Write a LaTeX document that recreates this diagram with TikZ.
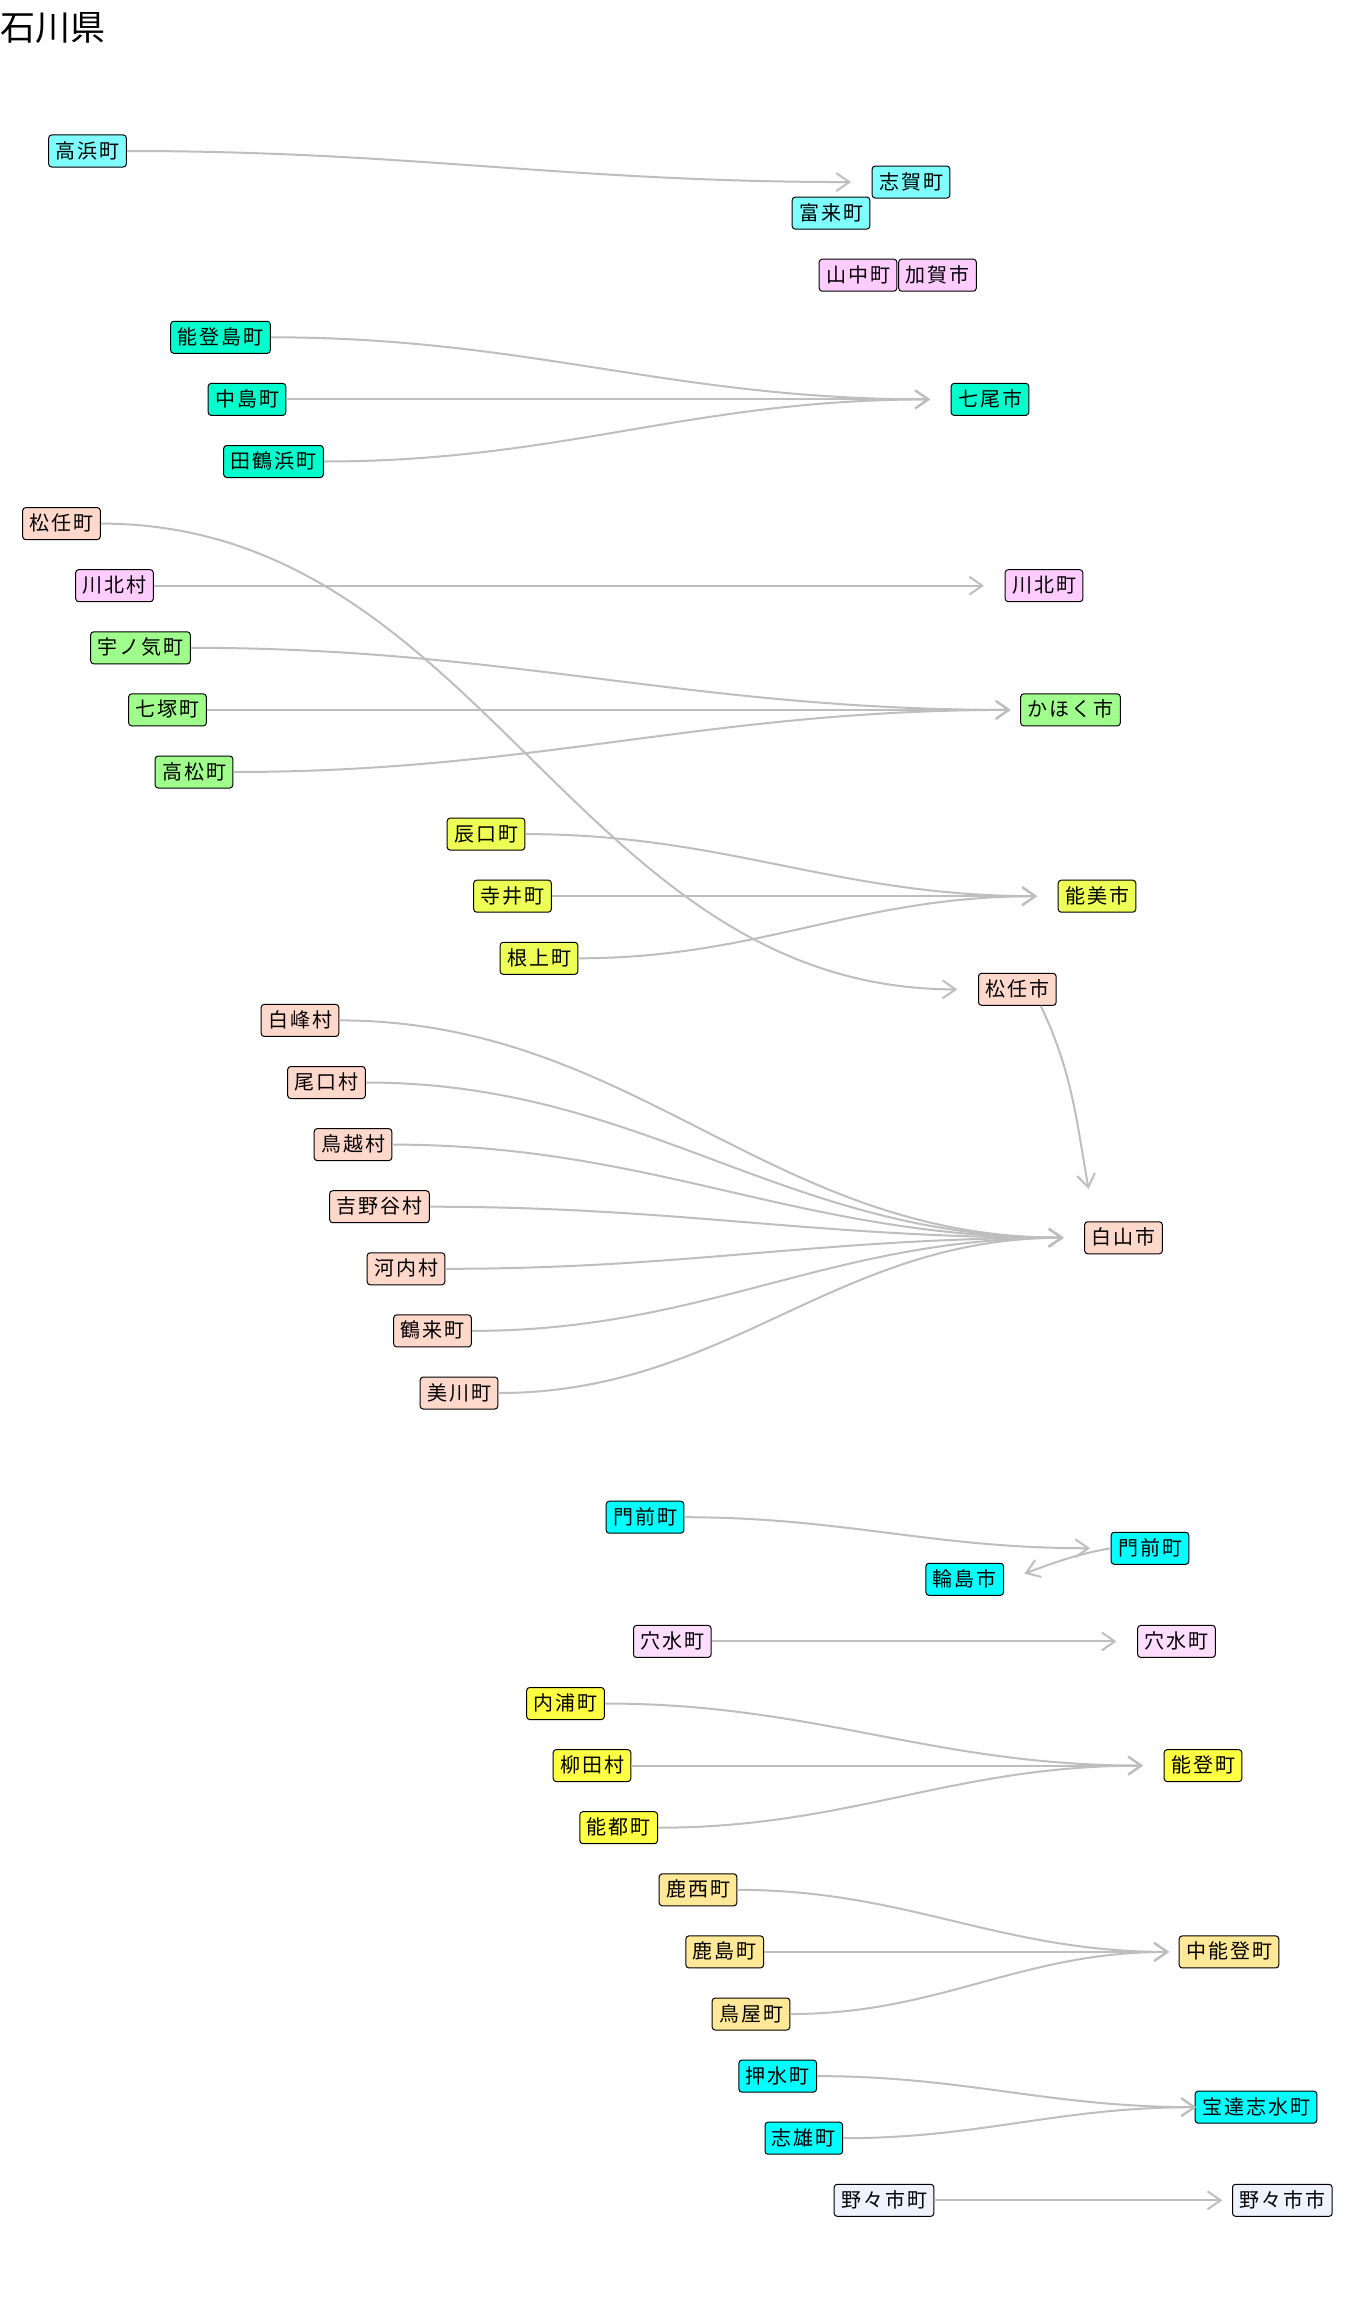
\documentclass[tikz,border=0pt]{standalone}
\usepackage{fontspec}
\setmainfont{Noto Sans CJK JP}
\newfontfamily\townfont[LetterSpace=10]{Noto Sans CJK JP}
\usetikzlibrary{arrows.meta}
\definecolor{lineGray}{RGB}{190,190,190}
\definecolor{cLightCyan}{HTML}{80FFFF}
\definecolor{cPink}{HTML}{FFCCFF}
\definecolor{cAqua}{HTML}{00FFCC}
\definecolor{cSalmon}{HTML}{FFD8CC}
\definecolor{cGreen}{HTML}{A0FF8C}
\definecolor{cLime}{HTML}{EEFF55}
\definecolor{cCyan}{HTML}{00FFFF}
\definecolor{cPaleMagenta}{HTML}{FFDDFF}
\definecolor{cYellow}{HTML}{FFFF44}
\definecolor{cSand}{HTML}{FFE898}
\definecolor{cIce}{HTML}{EEF3FF}
\tikzset{
  town/.style={draw=black, line width=1pt, rounded corners=3pt,
    minimum height=32pt, inner xsep=6.8pt, inner ysep=0pt,
    font=\townfont\fontsize{20pt}{20pt}\selectfont, text height=17pt, text depth=3pt},
  conn/.style={draw=lineGray, line width=2pt, -{Straight Barb[length=13pt,width=18pt]}},
}
\begin{document}
\begin{tikzpicture}[x=1pt,y=-1pt]
\fill[white] (0,0) rectangle (1344,2304);
\useasboundingbox (0,0) rectangle (1344,2304);
\node[anchor=base west, inner sep=0pt, font=\fontsize{35pt}{35pt}\selectfont] (title) at (0,41) {石川県};

% nodes
\node[town, fill=cLightCyan] (takahama) at (87.5,151.0) {高浜町};
\node[town, fill=cLightCyan] (shika) at (911,182.05) {志賀町};
\node[town, fill=cLightCyan] (togi) at (831,213.1) {富来町};
\node[town, fill=cPink] (yamanaka) at (858,275.2) {山中町};
\node[town, fill=cPink] (kaga) at (937.5,275.2) {加賀市};
\node[town, fill=cAqua] (notojima) at (220.5,337.3) {能登島町};
\node[town, fill=cAqua] (nakajima) at (247,399.4) {中島町};
\node[town, fill=cAqua] (nanao) at (990,399.4) {七尾市};
\node[town, fill=cAqua] (tatsuruhama) at (273.5,461.5) {田鶴浜町};
\node[town, fill=cSalmon] (mattoM) at (61.5,523.6) {松任町};
\node[town, fill=cPink] (kawakitaV) at (114.5,585.7) {川北村};
\node[town, fill=cPink] (kawakitaT) at (1044,585.7) {川北町};
\node[town, fill=cGreen] (unoke) at (140.5,647.8) {宇ノ気町};
\node[town, fill=cGreen] (shichika) at (167.5,709.9) {七塚町};
\node[town, fill=cGreen] (kahoku) at (1070.5,709.9) {かほく市};
\node[town, fill=cGreen] (takamatsu) at (194,772.0) {高松町};
\node[town, fill=cLime] (tatsunokuchi) at (486,834.1) {辰口町};
\node[town, fill=cLime] (terai) at (512.5,896.2) {寺井町};
\node[town, fill=cLime] (nomi) at (1097,896.2) {能美市};
\node[town, fill=cLime] (neagari) at (539,958.3) {根上町};
\node[town, fill=cSalmon] (mattoC) at (1017.3,989.35) {松任市};
\node[town, fill=cSalmon] (hakumine) at (300,1020.4) {白峰村};
\node[town, fill=cSalmon] (oguchi) at (326.5,1082.5) {尾口村};
\node[town, fill=cSalmon] (torigoe) at (353,1144.6) {鳥越村};
\node[town, fill=cSalmon] (yoshinodani) at (379.5,1206.7) {吉野谷村};
\node[town, fill=cSalmon] (hakusan) at (1123.5,1237.75) {白山市};
\node[town, fill=cSalmon] (kawachi) at (406,1268.8) {河内村};
\node[town, fill=cSalmon] (tsurugi) at (432.5,1330.9) {鶴来町};
\node[town, fill=cSalmon] (mikawa) at (459,1393.0) {美川町};
\node[town, fill=cCyan] (monzenL) at (645,1517.2) {門前町};
\node[town, fill=cCyan] (monzenR) at (1150,1548.25) {門前町};
\node[town, fill=cCyan] (wajima) at (964.7,1579.3) {輪島市};
\node[town, fill=cPaleMagenta] (anamizuL) at (672.3,1641.4) {穴水町};
\node[town, fill=cPaleMagenta] (anamizuR) at (1176.5,1641.4) {穴水町};
\node[town, fill=cYellow] (uchiura) at (565.5,1703.5) {内浦町};
\node[town, fill=cYellow] (yanagida) at (592,1765.6) {柳田村};
\node[town, fill=cYellow] (notoT) at (1203,1765.6) {能登町};
\node[town, fill=cYellow] (notoM) at (618.7,1827.7) {能都町};
\node[town, fill=cSand] (rokusei) at (698,1889.8) {鹿西町};
\node[town, fill=cSand] (kashima) at (724.7,1951.9) {鹿島町};
\node[town, fill=cSand] (nakanoto) at (1229,1951.9) {中能登町};
\node[town, fill=cSand] (toriya) at (751,2014.0) {鳥屋町};
\node[town, fill=cCyan] (oshimizu) at (777.7,2076.1) {押水町};
\node[town, fill=cCyan] (hodatsu) at (1256,2107.15) {宝達志水町};
\node[town, fill=cCyan] (shio) at (803.8,2138.2) {志雄町};
\node[town, fill=cIce] (nonoichiM) at (884,2200.3) {野々市町};
\node[town, fill=cIce] (nonoichiC) at (1282.3,2200.3) {野々市市};

% connectors
\draw[conn] (takahama.east) to[out=0,in=180] ([xshift=-60pt]shika.center);
\foreach \s in {notojima,nakajima,tatsuruhama}
  \draw[conn] (\s.east) to[out=0,in=180] ([xshift=-60pt]nanao.center);
\draw[conn] (mattoM.east) to[out=0,in=180] ([xshift=-60pt]mattoC.center);
\draw[conn] (kawakitaV.east) to[out=0,in=180] ([xshift=-60pt]kawakitaT.center);
\foreach \s in {unoke,shichika,takamatsu}
  \draw[conn] (\s.east) to[out=0,in=180] ([xshift=-60pt]kahoku.center);
\foreach \s in {tatsunokuchi,terai,neagari}
  \draw[conn] (\s.east) to[out=0,in=180] ([xshift=-60pt]nomi.center);
\draw[conn] (mattoC.-35) to[out=-65,in=100] ([shift={(125.6:60pt)}]hakusan.center);
\foreach \s in {hakumine,oguchi,torigoe,yoshinodani,kawachi,tsurugi,mikawa}
  \draw[conn] (\s.east) to[out=0,in=180] ([xshift=-60pt]hakusan.center);
\draw[conn] (monzenL.east) to[out=0,in=180] ([xshift=-60pt]monzenR.center);
\draw[conn] (monzenR.west) to[out=190,in=20] ([shift={(5.5:60pt)}]wajima.center);
\draw[conn] (anamizuL.east) to[out=0,in=180] ([xshift=-60pt]anamizuR.center);
\foreach \s in {uchiura,yanagida,notoM}
  \draw[conn] (\s.east) to[out=0,in=180] ([xshift=-60pt]notoT.center);
\foreach \s in {rokusei,kashima,toriya}
  \draw[conn] (\s.east) to[out=0,in=180] ([xshift=-60pt]nakanoto.center);
\foreach \s in {oshimizu,shio}
  \draw[conn] (\s.east) to[out=0,in=180] ([xshift=-60pt]hodatsu.center);
\draw[conn] (nonoichiM.east) to[out=0,in=180] ([xshift=-60pt]nonoichiC.center);
\end{tikzpicture}
\end{document}
